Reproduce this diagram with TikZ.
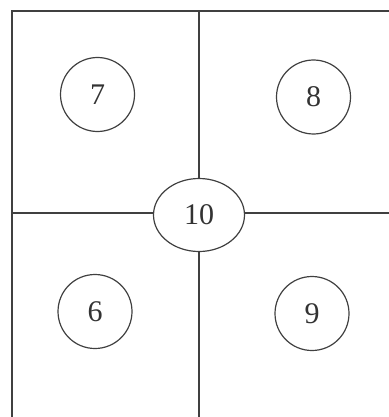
\documentclass[tikz,border=0pt]{standalone}
\usepackage{fontspec}
\setmainfont{Liberation Serif}
\usetikzlibrary{shapes.geometric}
\begin{document}
\begin{tikzpicture}[x=1pt,y=-1pt,
  ln/.style={draw=black!75,line width=1.2pt},
  room/.style={circle,draw=black!75,line width=1.2pt,minimum size=74pt,inner sep=0pt,font=\fontsize{30}{32}\selectfont,text=black!80},
  hub/.style={ellipse,draw=black!75,line width=1.2pt,minimum width=91pt,minimum height=73pt,inner sep=0pt,font=\fontsize{30}{32}\selectfont,text=black!80}]
\useasboundingbox (0,0) rectangle (388,417);
\draw[ln] (12,11) rectangle (395,425);
\node[room] (n7) at (97.5,94.5) {7};
\node[room] (n8) at (313.5,97) {8};
\node[room] (n6) at (95,311.5) {6};
\node[room] (n9) at (312,313.5) {9};
\node[hub] (n10) at (199,215) {10};
\coordinate (t) at (199,11);
\coordinate (b) at (199,425);
\coordinate (l) at (12,213);
\coordinate (r) at (395,213);
\draw[ln] (t) -- (n10.north);
\draw[ln] (n10.south) -- (b);
\draw[ln] (l) -- (l -| n10.west);
\draw[ln] (r -| n10.east) -- (r);
\end{tikzpicture}
\end{document}
